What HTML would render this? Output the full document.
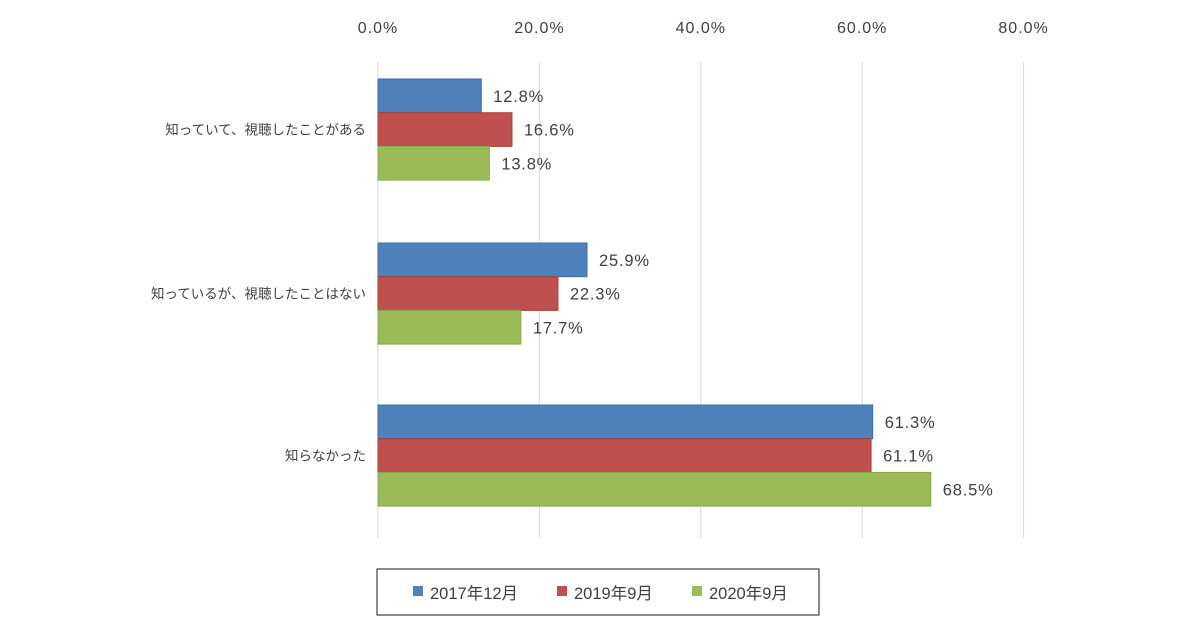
<!DOCTYPE html>
<html><head><meta charset="utf-8"><style>
body{margin:0;background:#fff;width:1200px;height:630px;overflow:hidden;font-family:"Liberation Sans","Noto Sans CJK JP",sans-serif;}
</style></head><body>
<svg id="chart" width="1200" height="630" xmlns="http://www.w3.org/2000/svg" font-family="Liberation Sans, Noto Sans CJK JP, sans-serif"></svg>
<script>
const categories=["知っていて、視聴したことがある","知っているが、視聴したことはない","知らなかった"];
const seriesNames=["2017年12月","2019年9月","2020年9月"];
const s2017=[12.8,25.9,61.3];
const s2019=[16.6,22.3,61.1];
const s2020=[13.8,17.7,68.5];
const ticks=[0,20,40,60,80];
const series=[s2017,s2019,s2020];
const colors=["#4f81bd","#c0504d","#9bbb59"];
const borders=["#3c6ea8","#a8403d","#88a84a"];
const NS="http://www.w3.org/2000/svg";
const svg=document.getElementById('chart');
const x0=378,pxPer=8.07;
const X=v=>x0+v*pxPer;
const groupTop=[79,243,405],barH=33.7;
function mk(t,a,txt){const e=document.createElementNS(NS,t);for(const k in a)e.setAttribute(k,a[k]);if(txt!=null)e.textContent=txt;svg.appendChild(e);return e;}
ticks.forEach(t=>{
 const g=mk('line',{x1:X(t),x2:X(t),y1:62,y2:538,stroke:'#d9d9d9','stroke-width':1});
 
 
 const l=mk('text',{x:X(t),y:33,'text-anchor':'middle','font-size':16,'letter-spacing':1,fill:'#404040'},t.toFixed(1)+'%');
 
 
});
categories.forEach((c,i)=>{
 const l=mk('text',{x:366,y:groupTop[i]+barH*1.5+5,'text-anchor':'end','font-size':13.5,fill:'#404040'},c);
 
 
 series.forEach((s,j)=>{
  const y=groupTop[i]+j*barH;
  const r=mk('rect',{x:x0,y:y,width:X(s[i])-x0,height:barH,fill:colors[j],stroke:borders[j],'stroke-width':1});
  
  
  const v=mk('text',{x:X(s[i])+12,y:y+barH/2+6,'font-size':16.5,'letter-spacing':0.8,fill:'#404040'},s[i].toFixed(1)+'%');
  
  
 });
});
const box=mk('rect',{x:377,y:569,width:442,height:46,fill:'#fff',stroke:'#404040','stroke-width':1.2});


const lx=[413,557,692];
seriesNames.forEach((n,j)=>{
 const sw=mk('rect',{x:lx[j],y:586,width:10,height:10,fill:colors[j]});
 
 
 const t=mk('text',{x:lx[j]+17,y:599,'font-size':16.5,fill:'#404040'},n);
 
 
});
</script>
</body></html>
